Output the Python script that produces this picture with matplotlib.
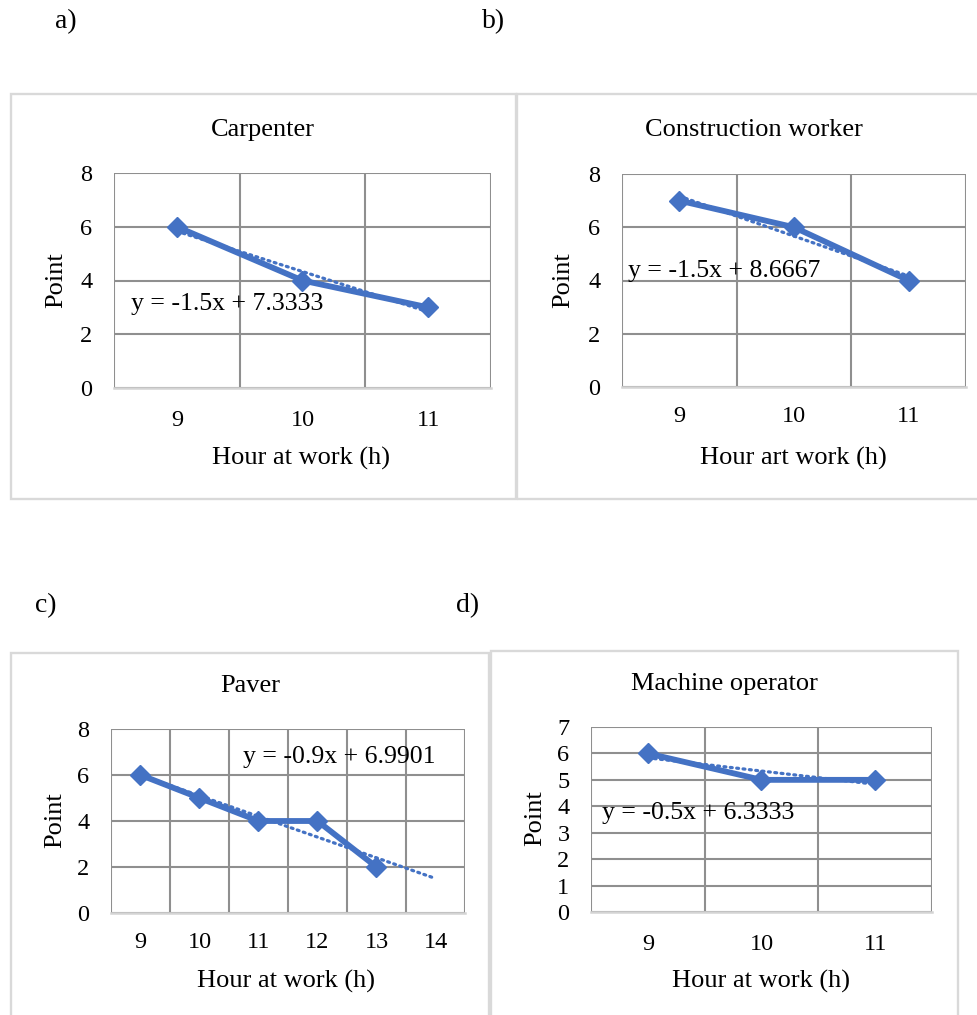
import numpy as np
import matplotlib
matplotlib.use("Agg")
import matplotlib.pyplot as plt
from matplotlib.patches import Rectangle

plt.rcParams['font.family'] = ['Liberation Serif', 'DejaVu Serif']

W, H = 978, 1015
BLUE = '#4472C4'
GRID = '#8f8f8f'

# ---------------- data ----------------
carp_hours = ['9', '10', '11']
carp_points = [6, 4, 3]
carp_eq = 'y = -1.5x + 7.3333'

cons_hours = ['9', '10', '11']
cons_points = [7, 6, 4]
cons_eq = 'y = -1.5x + 8.6667'

paver_hours = ['9', '10', '11', '12', '13', '14']
paver_points = [6, 5, 4, 4, 2]
paver_eq = 'y = -0.9x + 6.9901'

mach_hours = ['9', '10', '11']
mach_points = [6, 5, 5]
mach_eq = 'y = -0.5x + 6.3333'

titles = ['Carpenter', 'Construction worker', 'Paver', 'Machine operator']
xlabels = ['Hour at work (h)', 'Hour art work (h)', 'Hour at work (h)', 'Hour at work (h)']
ylabel = 'Point'
panel_tags = ['a)', 'b)', 'c)', 'd)']

fig = plt.figure(figsize=(W / 100, H / 100), dpi=100)


def fx(x):
    return x / W


def fy(y):
    return 1 - y / H


def add_box(x0, y0, x1, y1):
    fig.patches.append(Rectangle((fx(x0), fy(y1)), fx(x1) - fx(x0), fy(y0) - fy(y1),
                                 transform=fig.transFigure, fill=False,
                                 edgecolor='#d9d9d9', linewidth=1.7, zorder=0))


def panel(box, plot, hours, points, ymax, ystep, title, title_xy, xlabel, xl_xy, yl_xy,
          eq, eq_xy, xpad, forecast=0):
    add_box(*box)
    x0, y0, x1, y1 = plot
    ax = fig.add_axes([fx(x0), fy(y1), fx(x1) - fx(x0), fy(y0) - fy(y1)])
    n = len(hours)
    ax.set_xlim(-0.5, n - 0.5)
    ax.set_ylim(0, ymax)
    ax.set_xticks(range(n))
    ax.set_xticklabels(hours)
    yt = np.arange(0, ymax + 0.01, ystep)
    ax.set_yticks(yt)
    ax.set_yticklabels([str(int(v)) for v in yt])
    ax.set_xticks(np.arange(-0.5, n, 1.0), minor=True)
    ax.tick_params(axis='both', which='both', length=0, labelsize=17.5, colors='black')
    ax.tick_params(axis='y', pad=15.5)
    ax.tick_params(axis='x', pad=xpad)
    ax.grid(True, axis='x', which='minor', color=GRID, linewidth=1.5)
    ax.grid(True, axis='y', which='major', color=GRID, linewidth=1.5)
    for s in ['left', 'right', 'top']:
        ax.spines[s].set_visible(False)
    ax.spines['bottom'].set_color('#d4d4d4')
    ax.spines['bottom'].set_linewidth(1.8)
    ax.set_axisbelow(True)

    xs = np.arange(len(points))
    ax.plot(xs, points, color=BLUE, linewidth=4.2, marker='D', markersize=10.5,
            solid_capstyle='round', solid_joinstyle='round', zorder=3, clip_on=False)
    slope, icpt = np.polyfit(xs, points, 1)
    xt = np.arange(len(points) + forecast)
    ax.plot(xt, slope * xt + icpt, color=BLUE, linewidth=2.3,
            linestyle=(0, (0.6, 1.4)), dash_capstyle='round', zorder=2, clip_on=False)

    ax.set_xlabel(xlabel, fontsize=19)
    ax.set_ylabel(ylabel, fontsize=19)
    ax.xaxis.set_label_coords((xl_xy[0] - x0) / (x1 - x0), (y1 - xl_xy[1]) / (y1 - y0))
    ax.yaxis.set_label_coords((yl_xy[0] - x0) / (x1 - x0), (y1 - yl_xy[1]) / (y1 - y0))
    ax.xaxis.label.set_va('center')
    ax.yaxis.label.set_va('center')
    ax.text((eq_xy[0] - x0) / (x1 - x0), (y1 - eq_xy[1]) / (y1 - y0), eq,
            transform=ax.transAxes, fontsize=18.5, ha='left', va='center', zorder=4)
    fig.text(fx(title_xy[0]), fy(title_xy[1]), title, fontsize=19, ha='center', va='center')
    return ax


panel((11, 94, 516, 499), (114, 173, 491, 388), carp_hours, carp_points, 8, 2,
      titles[0], (263, 130), xlabels[0], (301, 458), (56, 280), carp_eq, (131, 304), 16)
panel((517, 94, 990, 499), (622, 174, 966, 387), cons_hours, cons_points, 8, 2,
      titles[1], (754, 130), xlabels[1], (793, 458), (563, 280), cons_eq, (628, 271), 14)
panel((11, 653, 489, 1030), (111, 729, 465, 913), paver_hours, paver_points, 8, 2,
      titles[2], (250, 686), xlabels[2], (286, 981), (55, 820), paver_eq, (243, 757), 13.5,
      forecast=1)
panel((491, 651, 958, 1030), (591, 727, 932, 912), mach_hours, mach_points, 7, 1,
      titles[3], (724, 684), xlabels[3], (761, 981), (535, 818), mach_eq, (602, 813), 15.5)

for tag, (x, y) in zip(panel_tags, [(55, 22), (482, 22), (35, 606), (456, 606)]):
    fig.text(fx(x), fy(y), tag, fontsize=20, ha='left', va='center')

fig.savefig('out.png', dpi=100)
